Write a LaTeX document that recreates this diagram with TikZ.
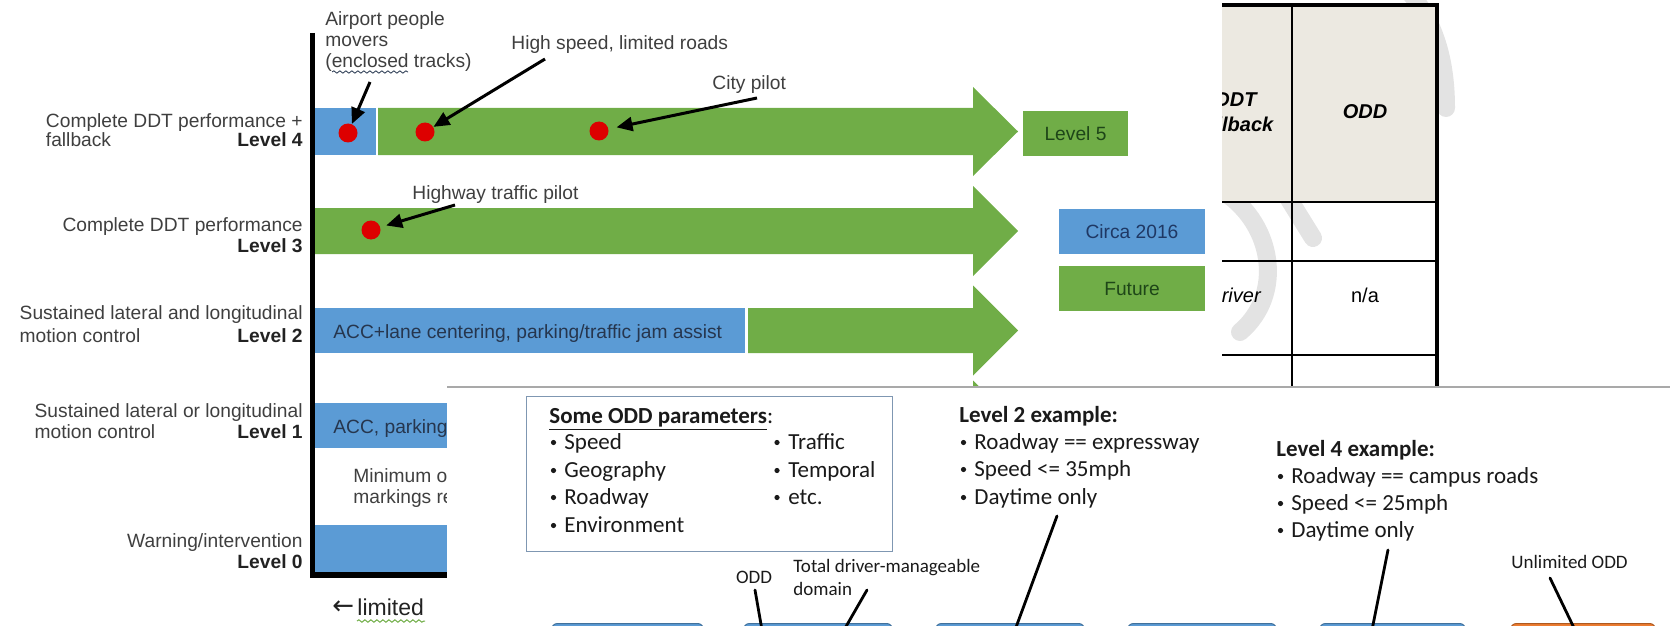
\documentclass[tikz,border=0pt]{standalone}
\usepackage{fontspec}
\setmainfont{Liberation Sans}
\newfontfamily\carlito{Carlito}
\newfontfamily\dejavu{DejaVu Sans}
\usetikzlibrary{arrows.meta,decorations.pathmorphing}

\definecolor{obar}{HTML}{5B9BD5}
\definecolor{obarline}{HTML}{41719C}
\definecolor{gbar}{HTML}{70AD47}
\definecolor{dotred}{HTML}{DD0000}
\definecolor{labgray}{HTML}{3F3F3F}
\definecolor{lvlblack}{HTML}{222222}
\definecolor{bartext}{HTML}{26364E}
\definecolor{navytxt}{HTML}{1F3864}
\definecolor{greentxt}{HTML}{1E4618}
\definecolor{headfill}{HTML}{ECE9E1}
\definecolor{wmgray}{HTML}{E3E3E3}
\definecolor{boxline}{HTML}{7F97B2}
\definecolor{panelline}{HTML}{A9A9A9}
\definecolor{orangebox}{HTML}{ED7D31}
\definecolor{orangeline}{HTML}{AE5A21}
\definecolor{ptext}{HTML}{1A1A1A}

\begin{document}
\begin{tikzpicture}[x=0.5pt,y=-0.5pt,
  lab/.style={inner sep=0pt, text=labgray, font=\fontsize{9.6}{11}\selectfont},
  lvl/.style={inner sep=0pt, text=lvlblack, font=\fontsize{9.6}{11}\selectfont\bfseries},
  bartxt/.style={inner sep=0pt, text=bartext, font=\fontsize{9.6}{11}\selectfont},
  pointer/.style={line width=1.5pt, -{Triangle[length=8pt,width=7pt]}},
  rdot/.style={circle, fill=dotred, minimum size=9.5pt, inner sep=0pt},
  gbox/.style={fill=gbar, text=greentxt, minimum width=52.5pt, minimum height=22.5pt,
    inner sep=0pt, font=\fontsize{9.6}{11}\selectfont},
  bluebox/.style={fill=obar, text=navytxt, minimum width=73pt, minimum height=22.5pt,
    inner sep=0pt, font=\fontsize{9.6}{11}\selectfont},
  wm/.style={draw=wmgray, line width=9pt, line cap=round},
  thead/.style={inner sep=0pt, font=\fontsize{10}{12}\selectfont\bfseries\itshape},
  tcell/.style={inner sep=0pt, font=\fontsize{10}{12}\selectfont},
  ptxt/.style={inner sep=0pt, text=ptext, font=\carlito\fontsize{11.5}{13}\selectfont},
  pdot/.style={circle, fill=ptext, minimum size=2.6pt, inner sep=0pt},
  psmall/.style={inner sep=0pt, text=ptext, font=\carlito\fontsize{9.5}{11}\selectfont},
  callout/.style={line width=1.4pt, line cap=round},
  odbox/.style={fill=obar, draw=obarline, line width=0.5pt, rounded corners=3pt,
    minimum height=30pt, anchor=north west, inner sep=0pt},
  squig/.style={decorate, decoration={snake, amplitude=0.6pt, segment length=3pt}, line width=0.5pt},
]
\useasboundingbox (0,0) rectangle (1670,626);
\clip (0,0) rectangle (1670,626);

% ---------- SAE table excerpt with watermark ----------
\begin{scope}
  \clip (1222,-10) rectangle (1480,387);
  \draw[wm] (1406,-12) .. controls (1432,18) and (1446,55) .. (1446,108);
  \draw[wm] (1224,192) .. controls (1274,225) and (1284,295) .. (1240,332);
  \draw[wm] (1282,188) -- (1313,238);
  \fill[headfill] (1222,6) rectangle (1436,202);
  \draw[line width=1pt] (1222,202) -- (1437,202) (1222,261) -- (1437,261) (1222,355) -- (1437,355);
  \draw[line width=1.1pt] (1292,6) -- (1292,390);
  \draw[line width=1.8pt] (1222,5) -- (1439,5);
  \draw[line width=2.4pt] (1437,4) -- (1437,390);
  \node[thead, anchor=base] (hddt) at (1236,107) {DDT};
  \node[thead, anchor=base] (hfb) at (1236,132) {fallback};
  \node[thead, anchor=base] (hodd) at (1365,119) {ODD};
  \node[tcell, font=\fontsize{10}{12}\selectfont\itshape, anchor=base] (cdrv) at (1234,302) {Driver};
  \node[tcell, anchor=base] (cna) at (1365,302) {n/a};
\end{scope}

% ---------- level bars ----------
% Level 4
\fill[obar] (315,108) rectangle (376,155);
\fill[gbar] (378,108) -- (973,108) -- (973,87) -- (1018,131.5) -- (973,176) -- (973,155) -- (378,155) -- cycle;
% Level 3
\fill[gbar] (315,208) -- (973,208) -- (973,186) -- (1018,231) -- (973,276) -- (973,254) -- (315,254) -- cycle;
% Level 2
\fill[obar] (315,308) rectangle (745,353);
\fill[gbar] (748,308) -- (973,308) -- (973,285.5) -- (1018,330.5) -- (973,375.5) -- (973,353) -- (748,353) -- cycle;
% Level 1
\fill[obar] (315,403) rectangle (760,448);
\fill[gbar] (762,403) -- (973,403) -- (973,380.5) -- (1018,425.5) -- (973,470.5) -- (973,448) -- (762,448) -- cycle;
% Level 0
\fill[obar] (315,525) rectangle (470,573);

% axis
\draw[line width=2.5pt] (312,33) -- (312,578);
\draw[line width=3pt] (310,575) -- (470,575);

% bar texts
\node[bartxt, anchor=base west] (t2) at (333,338) {ACC+lane centering, parking/traffic jam assist};
\node[bartxt, anchor=base west] (t1) at (333,433) {ACC, parking};
\node[lab, anchor=base west] (tm1) at (353,482) {Minimum o};
\node[lab, anchor=base west] (tm2) at (353,503) {markings re};

% legend boxes
\node[gbox] (lv5) at (1075.5,133.5) {Level 5};
\node[bluebox] (circa) at (1132,231.5) {Circa 2016};
\node[gbox, minimum width=73pt] (fut) at (1132,288.5) {Future};

% level labels
\node[lab, anchor=base east] (l4a) at (303,127) {Complete DDT performance +};
\path (l4a.base west) ++(0,20) node[lab, anchor=base west] (l4b) {fallback};
\node[lvl, anchor=base east] (l4) at (303,147) {Level 4};
\node[lab, anchor=base east] (l3a) at (303,231) {Complete DDT performance};
\node[lvl, anchor=base east] (l3) at (303,252) {Level 3};
\node[lab, anchor=base east] (l2a) at (303,319) {Sustained lateral and longitudinal};
\path (l2a.base west) ++(0,23) node[lab, anchor=base west] (l2b) {motion control};
\node[lvl, anchor=base east] (l2) at (303,342) {Level 2};
\node[lab, anchor=base east] (l1a) at (303,417) {Sustained lateral or longitudinal};
\path (l1a.base west) ++(0,21) node[lab, anchor=base west] (l1b) {motion control};
\node[lvl, anchor=base east] (l1) at (303,438) {Level 1};
\node[lab, anchor=base east] (l0a) at (303,547) {Warning/intervention};
\node[lvl, anchor=base east] (l0) at (303,568) {Level 0};

% axis caption
\node[inner sep=0pt, text=lvlblack, font=\dejavu\fontsize{13}{14}\selectfont, anchor=base west] (limarr) at (332,614) {←};
\node[inner sep=0pt, text=lvlblack, font=\fontsize{11.5}{13}\selectfont, anchor=base west] (limtxt) at (357,615) {limited};
\draw[squig, draw=gbar] (357,621) -- (425,621);

% example dots and pointers
\node[rdot] (d1) at (348,133) {};
\node[rdot] (d2) at (425,132) {};
\node[rdot] (d3) at (599,131) {};
\node[rdot] (d4) at (371,230) {};

\node[lab, anchor=base west] (apm1) at (325,26) {Airport people};
\node[lab, anchor=base west] (apm2) at (325,47) {movers};
\node[lab, anchor=base west] (apm3) at (325,68) {(enclosed tracks)};
\draw[squig, draw=bartext, line width=0.4pt] (332,72) -- (408,72);
\node[lab, anchor=base west] (hsl) at (511,50) {High speed, limited roads};
\node[lab, anchor=base west] (cpl) at (712,90) {City pilot};
\node[lab, anchor=base west] (htp) at (412,199) {Highway traffic pilot};

\coordinate (apm-s) at (370,82);
\coordinate (hsl-s) at (545,59);
\coordinate (cpl-s) at (757,98);
\coordinate (htp-s) at (455,205);
\draw[pointer] (apm-s) -- (d1);
\draw[pointer] (hsl-s) -- (d2);
\draw[pointer, shorten >=4pt] (cpl-s) -- (d3);
\draw[pointer, shorten >=3pt] (htp-s) -- (d4);

% ---------- ODD panel ----------
\fill[white] (447,387) rectangle (1680,640);
\draw[line width=0.75pt, draw=panelline] (447,387) -- (1672,387);

\node[draw=boxline, line width=0.7pt, minimum width=183pt, minimum height=77.5pt,
  anchor=north west, inner sep=0pt] (oddbox) at (526,396) {};
\node[ptxt, anchor=base west] (oddttl) at (549,423) {\textbf{\underline{Some ODD parameters}}:};
\foreach \t/\y [count=\i] in {Speed/449, Geography/477, Roadway/504, Environment/532}{
  \node[pdot] (pb\i) at (553.5,\y-6.5) {};
  \node[ptxt, anchor=base west] (pt\i) at (564,\y) {\t};
}
\foreach \t/\y [count=\i] in {Traffic/449, Temporal/477, etc./504}{
  \node[pdot] (qb\i) at (777,\y-6.5) {};
  \node[ptxt, anchor=base west] (qt\i) at (788,\y) {\t};
}

\node[ptxt, anchor=base west] (ex2) at (959,422) {\textbf{Level 2 example:}};
\foreach \t/\y [count=\i] in {Roadway == expressway/449, Speed <= 35mph/476, Daytime only/504}{
  \node[pdot] (eb\i) at (963.5,\y-6.5) {};
  \node[ptxt, anchor=base west] (et\i) at (974,\y) {\t};
}

\node[ptxt, anchor=base west] (ex4) at (1276,456) {\textbf{Level 4 example:}};
\foreach \t/\y [count=\i] in {Roadway == campus roads/483, Speed <= 25mph/510, Daytime only/537}{
  \node[pdot] (fb\i) at (1280.5,\y-6.5) {};
  \node[ptxt, anchor=base west] (ft\i) at (1291,\y) {\t};
}

\node[psmall, anchor=base] (oddlab) at (754,583) {ODD};
\node[psmall, anchor=base west] (tot1) at (793,572) {Total driver-manageable};
\node[psmall, anchor=base west] (tot2) at (793,595) {domain};
\node[psmall, anchor=base west] (unl) at (1511,568) {Unlimited ODD};

% ODD range boxes
\node[odbox, minimum width=76pt] (b1) at (551,623) {};
\node[odbox, minimum width=74.5pt] (b2) at (743,623) {};
\node[odbox, minimum width=74.5pt] (b3) at (935,623) {};
\node[odbox, minimum width=74.5pt] (b4) at (1127,623) {};
\node[odbox, minimum width=73pt] (b5) at (1319,623) {};
\node[odbox, minimum width=72.5pt, fill=orangebox, draw=orangeline] (b6) at (1510,623) {};

% callout lines
\coordinate (k-odd-a) at (755,590);  \coordinate (k-odd-b) at (762,630);
\coordinate (k-tot-a) at (867,590);  \coordinate (k-tot-b) at (844,630);
\coordinate (k-l2-a) at (1057,516);  \coordinate (k-l2-b) at (1015,630);
\coordinate (k-l4-a) at (1388,550);  \coordinate (k-l4-b) at (1372,630);
\coordinate (k-un-a) at (1550,578);  \coordinate (k-un-b) at (1575,630);
\draw[callout] (k-odd-a) -- (k-odd-b);
\draw[callout] (k-tot-a) -- (k-tot-b);
\draw[callout] (k-l2-a) -- (k-l2-b);
\draw[callout] (k-l4-a) -- (k-l4-b);
\draw[callout] (k-un-a) -- (k-un-b);
\end{tikzpicture}
\end{document}
